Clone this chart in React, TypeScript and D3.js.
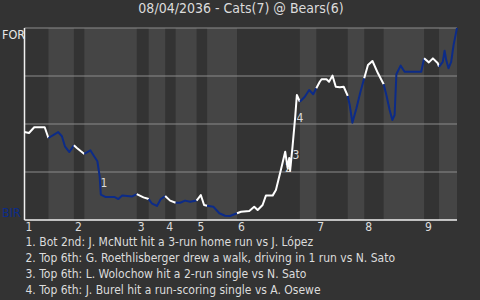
import React from "react";
import * as d3 from "d3";

const title = "08/04/2036 - Cats(7) @ Bears(6)";
const topTeam = "FOR";
const bottomTeam = "BIR";

// cumulative pitch count at the end of each half-inning (start = 0)
const halfInningEnds = [16, 33, 40, 75, 83, 94, 101, 115, 122, 142, 184, 195, 216, 227, 240, 267, 277, 289];
const inningLabels = ["1", "2", "3", "4", "5", "6", "7", "8", "9"];

const pitch = [
  0, 3, 6.5, 13.5, 16, 22.5, 25, 27, 30, 33, 35, 37.5, 40, 44, 46.5, 48.7, 50.2, 51, 54, 60, 62.7, 65.3, 72, 75,
  79.5, 83, 85, 88.5, 91, 94, 97.3, 101, 104, 107.3, 110.7, 115, 117.8, 120, 122, 126.2, 130.2, 134, 137.3, 142,
  144.7, 150.2, 153.5, 155.8, 159.1, 161.3, 165.8, 168, 171.3, 174.2, 175.8, 176.9, 177.5, 179.1, 180.9, 182, 184,
  187.3, 190.2, 192.9, 195, 197.3, 198.5, 201.8, 203.5, 205.8, 208, 210.7, 213.3, 216, 217.3, 219.1, 221.8, 224.5,
  227, 229.5, 232.5, 236.2, 240, 241.8, 244, 245.8, 247.3, 248.5, 251.3, 254, 265.1, 267, 270.2, 272.9, 276.2, 277,
  279.5, 280.7, 281.8, 283.3, 285.1, 286.7, 289,
];
const winProb = [
  0.458, 0.453, 0.483, 0.483, 0.427, 0.458, 0.436, 0.384, 0.354, 0.389, 0.375, 0.359, 0.344, 0.363, 0.332, 0.306,
  0.228, 0.132, 0.12, 0.12, 0.109, 0.127, 0.123, 0.135, 0.118, 0.109, 0.087, 0.073, 0.108, 0.125, 0.101, 0.09, 0.09,
  0.101, 0.095, 0.101, 0.13, 0.078, 0.074, 0.069, 0.035, 0.022, 0.021, 0.035, 0.043, 0.047, 0.069, 0.052, 0.078,
  0.127, 0.127, 0.156, 0.26, 0.356, 0.271, 0.323, 0.257, 0.382, 0.538, 0.651, 0.616, 0.642, 0.677, 0.655, 0.686,
  0.72, 0.733, 0.733, 0.72, 0.752, 0.694, 0.691, 0.694, 0.646, 0.599, 0.507, 0.582, 0.668, 0.738, 0.807, 0.828,
  0.764, 0.707, 0.651, 0.573, 0.521, 0.547, 0.759, 0.804, 0.772, 0.772, 0.842, 0.821, 0.842, 0.816, 0.798, 0.824,
  0.882, 0.833, 0.79, 0.824, 0.911, 1.0,
];

const markerIds = ["1", "2", "3", "4"];
const markerPitch = [53, 176.3, 181.3, 184];
const markerProb = [0.193, 0.27, 0.339, 0.534];

const notes = [
  "1. Bot 2nd: J. McNutt hit a 3-run home run vs J. López",
  "2. Top 6th: G. Roethlisberger drew a walk, driving in 1 run vs N. Sato",
  "3. Top 6th: L. Wolochow hit a 2-run single vs N. Sato",
  "4. Top 6th: J. Burel hit a run-scoring single vs A. Osewe",
];

const W = 480;
const H = 300;
const FONT = "'Liberation Sans Narrow', 'DejaVu Sans Condensed', 'Roboto', sans-serif";
const BG = "#333333";
const BAND = "#454545";
const GRID = "#8c8c8c";
const TEXT = "#dcdcdc";
const BLUE = "#0c2b88";

export default function App() {
  const x = d3.scaleLinear().domain([0, halfInningEnds[halfInningEnds.length - 1]]).range([24.5, 457]);
  const y = d3.scaleLinear().domain([0, 1]).range([220, 28]);

  const starts = [0, ...halfInningEnds.slice(0, -1)];
  const pts = pitch.map((p, i) => [p, winProb[i]] as [number, number]);
  const line = d3
    .line<[number, number]>()
    .x((d) => x(d[0]))
    .y((d) => y(d[1]));

  const inningStarts = starts.filter((_, i) => i % 2 === 0);

  return (
    <svg
      width={W}
      height={H}
      style={{ position: "fixed", left: 0, top: 0, display: "block" }}
      fontFamily={FONT}
    >
      <rect x={0} y={0} width={W} height={H} fill={BG} />
      {starts.map((s, i) =>
        i % 2 === 1 ? (
          <rect key={i} x={x(s)} y={y(1)} width={x(halfInningEnds[i]) - x(s)} height={y(0) - y(1)} fill={BAND} />
        ) : null
      )}
      {[0.25, 0.5, 0.75, 1].map((t) => (
        <line key={t} x1={x(0)} x2={x.range()[1]} y1={y(t)} y2={y(t)} stroke={GRID} strokeWidth={1} />
      ))}
      <line x1={x(0)} x2={x.range()[1]} y1={y(0)} y2={y(0)} stroke="#f0f0f0" strokeWidth={1.5} />
      <line x1={x(0)} x2={x(0)} y1={y(1)} y2={y(0)} stroke="#f0f0f0" strokeWidth={1.5} />

      {markerIds.map((m, i) => (
        <text key={m} x={x(markerPitch[i])} y={y(markerProb[i])} dy="0.35em" textAnchor="middle" fontSize={12} fill={TEXT}>
          {m}
        </text>
      ))}

      {starts.map((s, i) => {
        const e = halfInningEnds[i];
        const seg = pts.filter((d) => d[0] >= s && d[0] <= e);
        return (
          <path
            key={i}
            d={line(seg) || ""}
            fill="none"
            stroke={i % 2 === 0 ? "#ffffff" : BLUE}
            strokeWidth={2}
            strokeLinejoin="round"
          />
        );
      })}

      {inningStarts.map((s, i) => (
        <text key={i} x={x(s) + 1} y={231} fontSize={12} fill={TEXT}>
          {inningLabels[i]}
        </text>
      ))}

      <text x={241} y={13} textAnchor="middle" fontSize={14} fill={TEXT}>
        {title}
      </text>
      <text x={2} y={39} fontSize={12.5} fill="#e8e8e8">
        {topTeam}
      </text>
      <text x={2} y={217} fontSize={12.5} fill={BLUE}>
        {bottomTeam}
      </text>

      {notes.map((n, i) => (
        <text key={i} x={25.5} y={245.5 + i * 16} fontSize={12} fill={TEXT}>
          {n}
        </text>
      ))}
    </svg>
  );
}
